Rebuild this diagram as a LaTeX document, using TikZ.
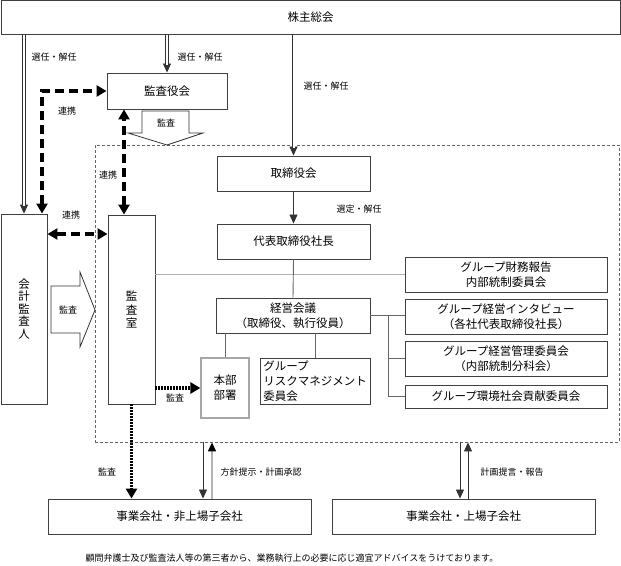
\documentclass[tikz,border=0pt]{standalone}
\usepackage{fontspec}
\setmainfont{Noto Sans CJK JP}
\usetikzlibrary{arrows.meta}

\begin{document}
\begin{tikzpicture}[x=1pt,y=-1pt,
        box/.style={draw=black!75,line width=0.9pt,inner sep=0pt,align=center,font=\fontsize{11.5}{15}\selectfont},
        wh/.style 2 args={minimum width=#1,minimum height=#2},
        lbl/.style={inner sep=0pt,font=\fontsize{9}{10}\selectfont},
        conn/.style={draw=black!60,line width=0.9pt},
        gline/.style={draw=black!30,line width=1.6pt},
        tip/.style={draw=black!80,line width=0.8pt,-{Triangle[width=8pt,length=9pt]}},
        uptip/.style={draw=black!30,line width=1.6pt,-{Triangle[width=8pt,length=9pt,color=black]}},
        dbl/.style={draw=black!80,double=white,double distance=2pt,line width=0.8pt,shorten >=8pt},
        renkei/.style={line width=3.5pt,dash pattern=on 9pt off 5pt,{Triangle[width=11pt,length=10pt]}-{Triangle[width=11pt,length=10pt]}},
        kansa/.style={line width=3.5pt,dash pattern=on 2pt off 1pt,-{Triangle[width=11pt,length=10pt]}},
        blockarrow/.style={draw=black!80,line width=0.8pt}]

    \useasboundingbox (0,0) rectangle (621,565);

    % boxes
    \node[box,wh={619}{34}] (kabu) at (310.5,17.5) {株主総会};
    \node[box,wh={120}{36}] (kansayaku) at (167,91) {監査役会};
    \node[draw=black!60,line width=0.8pt,dash pattern=on 3pt off 2pt,wh={524}{297}] (frame) at (357,293.5) {};
    \node[box,wh={153}{35}] (torishimari) at (293.5,173.5) {取締役会};
    \node[box,wh={153}{35}] (daihyo) at (293.5,241.5) {代表取締役社長};
    \node[box,wh={154}{35}] (keiei) at (293,315.5) {経営会議\\（取締役、執行役員）};
    \node[box,draw=black!35,line width=1.2pt,wh={48}{60}] (honbu) at (225,388) {本部\\部署};
    \node[box,align=left,wh={110}{46}] (risk) at (315,381) {グループ\\リスクマネジメント\\委員会};
    \node[box,wh={202}{35}] (zaimu) at (506,274.5) {グループ財務報告\\内部統制委員会};
    \node[box,wh={202}{35}] (interview) at (506,316.5) {グループ経営インタビュー\\（各社代表取締役社長）};
    \node[box,wh={202}{35}] (kanri) at (506,358.5) {グループ経営管理委員会\\（内部統制分科会）};
    \node[box,wh={202}{23}] (kankyo) at (506,396.5) {グループ環境社会貢献委員会};
    \node[box,wh={46}{190},font=\fontsize{11.5}{12.5}\selectfont] (kaikei) at (24,309) {会\\計\\監\\査\\人};
    \node[box,wh={47}{189},font=\fontsize{11.5}{13.5}\selectfont] (kansashitsu) at (131.5,309.5) {監\\査\\室};
    \node[box,wh={263}{35}] (hijojo) at (179.5,516.5) {事業会社・非上場子会社};
    \node[box,wh={263}{35}] (jojo) at (463.5,516.5) {事業会社・上場子会社};

    % block arrows
    \draw[blockarrow] (142,111) -- (189,111) -- (189,133) -- (203,133) -- (167,145) -- (128,133) -- (142,133) -- cycle;
    \node[lbl] (kansa1) at (166,123) {監査};
    \draw[blockarrow] (51,286) -- (80,286) -- (80,272) -- (95,310) -- (80,347) -- (80,333) -- (51,333) -- cycle;
    \node[lbl] (kansa2) at (68,310) {監査};

    % selection lines from the shareholders meeting
    \foreach \n in {kaikei,kansayaku,torishimari} {
        \draw[tip] (kabu.south -| \n.north) -- (\n.north);
        \draw[dbl] (kabu.south -| \n.north) -- (\n.north);
    }
    \node[lbl] (sen1) at (54,57) {選任・解任};
    \node[lbl] (sen2) at (200,57) {選任・解任};
    \node[lbl] (sen3) at (326,86) {選任・解任};

    \draw[tip] (torishimari.south) -- (daihyo.north);
    \node[lbl] (sentei) at (359,209) {選定・解任};

    % cooperation
    \coordinate (rk) at (42,91);
    \coordinate (rv) at (124,0);
    \coordinate (rh) at (0,234);
    \draw[renkei] (kaikei.north -| rk) |- (kansayaku.west);
    \draw[renkei] (kansashitsu.north -| rv) -- (kansayaku.south -| rv);
    \draw[renkei] (kaikei.east |- rh) -- (kansashitsu.west |- rh);
    \node[lbl] (ren1) at (67,111) {連携};
    \node[lbl] (ren2) at (108,175) {連携};
    \node[lbl] (ren3) at (71,215) {連携};

    % organisation lines
    \draw[gline] (kansashitsu.east |- zaimu.west) -- (zaimu.west);
    \draw[conn] (daihyo.south) -- (keiei.north);
    \draw[conn] (keiei.south -| honbu.north) -- (honbu.north);
    \draw[conn] (keiei.south -| risk.north) -- (risk.north);
    \coordinate (br) at (388,0);
    \draw[conn] (keiei.east) -- (keiei.east -| interview.west);
    \draw[conn] (keiei.east -| br) |- (kanri.west);
    \draw[conn] (keiei.east -| br) |- (kankyo.west);

    % audit
    \draw[kansa] (kansashitsu.east |- honbu.west) -- (honbu.west);
    \node[lbl] (kansa3) at (175,398) {監査};
    \draw[kansa] (kansashitsu.south) -- (kansashitsu.south |- hijojo.north);
    \node[lbl] (kansa4) at (107,472) {監査};

    % subsidiaries
    \coordinate (b1) at (203,0);
    \coordinate (b2) at (212,0);
    \coordinate (b3) at (460,0);
    \coordinate (b4) at (468,0);
    \draw[tip] (frame.south -| b1) -- (hijojo.north -| b1);
    \draw[uptip] (hijojo.north -| b2) -- (frame.south -| b2);
    \draw[tip] (frame.south -| b3) -- (jojo.north -| b3);
    \draw[tip] (jojo.north -| b4) -- (frame.south -| b4);
    \node[lbl] (hoshin) at (261,472) {方針提示・計画承認};
    \node[lbl] (keikaku) at (512,472) {計画提言・報告};

    \node[lbl] (note) at (292,558) {顧問弁護士及び監査法人等の第三者から、業務執行上の必要に応じ適宜アドバイスをうけております。};
\end{tikzpicture}
\end{document}
